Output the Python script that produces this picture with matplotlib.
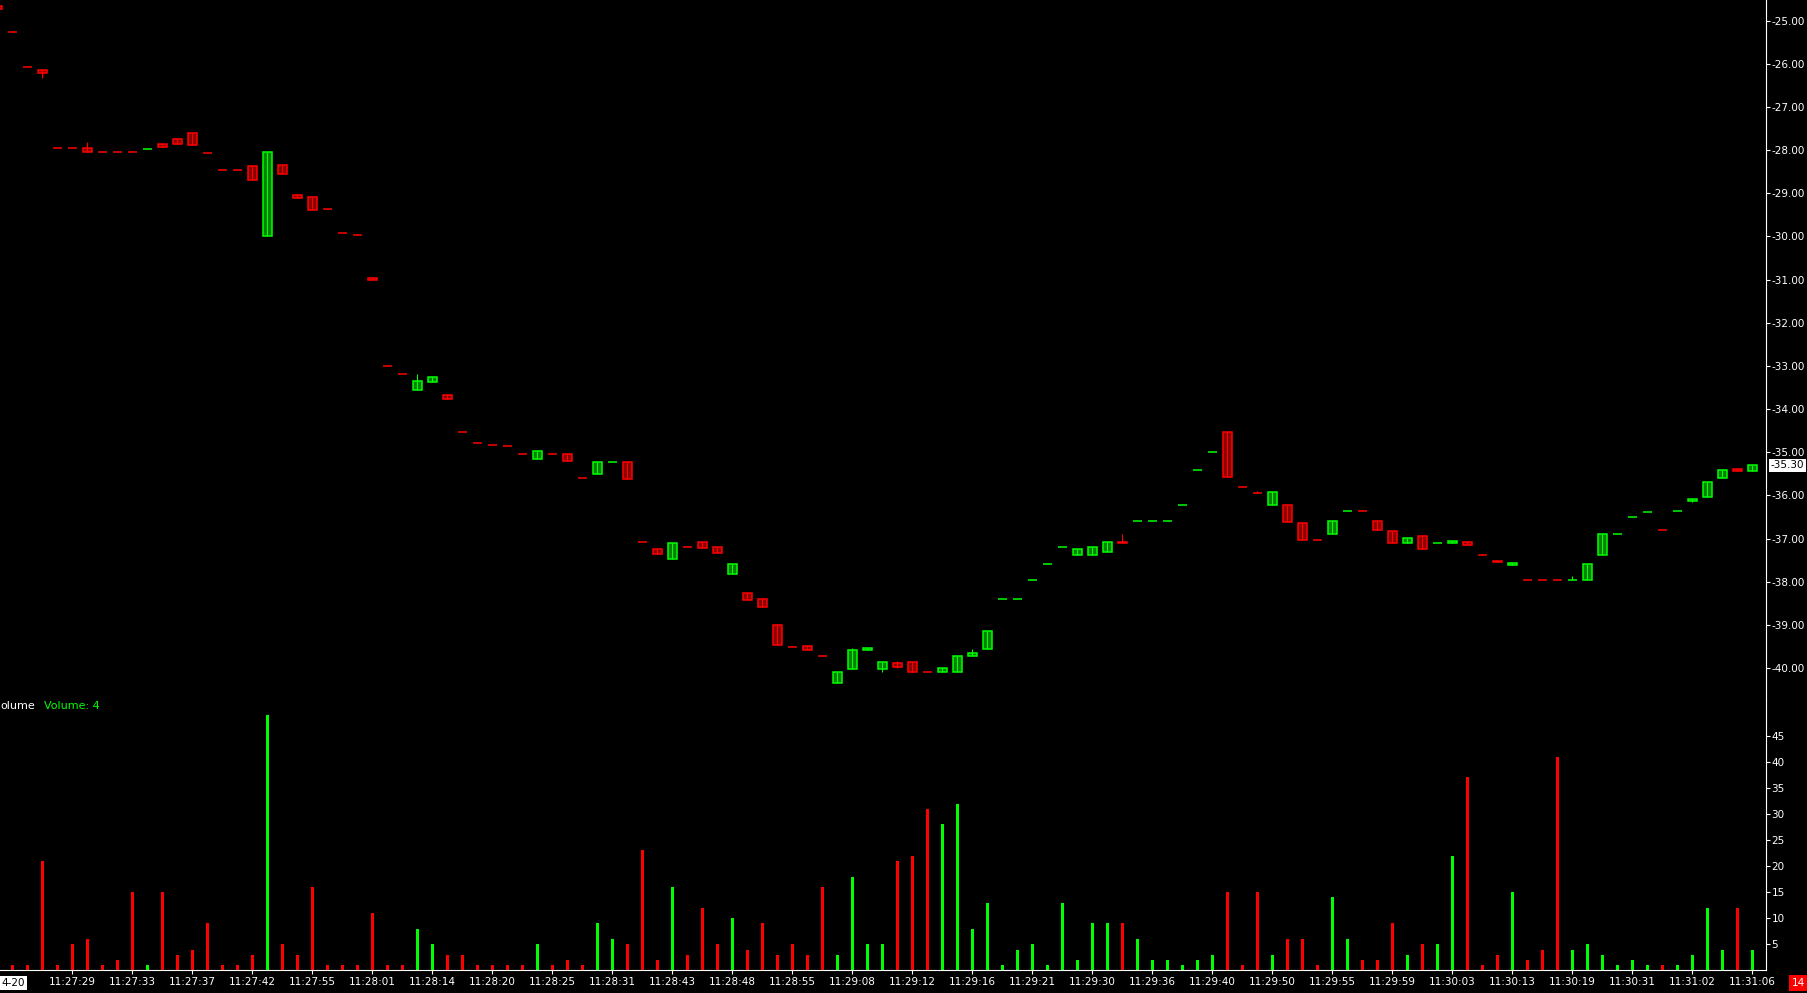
import numpy as np
import matplotlib
matplotlib.use("Agg")
import matplotlib.pyplot as plt
from matplotlib.ticker import FormatStrFormatter

plt.rcParams['axes.unicode_minus'] = False
plt.rcParams['font.family'] = ['DejaVu Sans']

# bar index -1 is only partly visible at the left edge
bar_idx = np.arange(-1, 117)

opens = [-24.66, -25.25, -26.08, -26.15, -27.96, -27.96, -27.96, -28.05, -28.05, -28.05,
         -27.98, -27.86, -27.73, -27.61, -28.07, -28.47, -28.47, -28.37, -29.98, -28.35,
         -29.05, -29.09, -29.37, -29.93, -29.97, -30.96, -32.99, -33.19, -33.55, -33.37,
         -33.68, -34.52, -34.79, -34.82, -34.86, -35.05, -35.15, -35.05, -35.04, -35.60,
         -35.50, -35.23, -35.23, -37.07, -37.25, -37.47, -37.20, -37.07, -37.20, -37.82,
         -38.27, -38.41, -39.01, -39.52, -39.50, -39.71, -40.34, -40.02, -39.58, -40.02,
         -39.89, -39.85, -40.10, -40.10, -40.10, -39.71, -39.55, -38.41, -38.41, -37.95,
         -37.60, -37.20, -37.39, -37.37, -37.32, -37.07, -36.60, -36.60, -36.60, -36.21,
         -35.42, -35.00, -34.54, -35.81, -35.95, -36.21, -36.21, -36.65, -37.04, -36.90,
         -36.35, -36.37, -36.60, -36.83, -37.11, -36.93, -37.11, -37.10, -37.09, -37.39,
         -37.51, -37.61, -37.95, -37.95, -37.95, -37.95, -37.95, -37.38, -36.90, -36.51,
         -36.39, -36.81, -36.37, -36.12, -36.03, -35.59, -35.39, -35.43]

closes = [-24.73, -25.25, -26.08, -26.20, -27.96, -27.96, -28.05, -28.05, -28.05, -28.05,
          -27.98, -27.93, -27.86, -27.87, -28.07, -28.47, -28.47, -28.68, -28.05, -28.55,
          -29.10, -29.38, -29.37, -29.93, -29.97, -31.00, -32.99, -33.19, -33.35, -33.26,
          -33.76, -34.52, -34.79, -34.82, -34.86, -35.05, -34.98, -35.05, -35.20, -35.60,
          -35.23, -35.23, -35.61, -37.07, -37.35, -37.11, -37.20, -37.21, -37.33, -37.60,
          -38.42, -38.58, -39.46, -39.52, -39.58, -39.71, -40.10, -39.57, -39.54, -39.85,
          -39.97, -40.10, -40.10, -40.01, -39.71, -39.66, -39.15, -38.41, -38.41, -37.95,
          -37.60, -37.20, -37.25, -37.20, -37.07, -37.11, -36.60, -36.60, -36.60, -36.21,
          -35.42, -35.00, -35.58, -35.81, -35.95, -35.93, -36.61, -37.04, -37.04, -36.60,
          -36.35, -36.37, -36.81, -37.11, -36.99, -37.23, -37.11, -37.06, -37.16, -37.39,
          -37.55, -37.57, -37.95, -37.95, -37.95, -37.95, -37.60, -36.90, -36.90, -36.51,
          -36.39, -36.81, -36.37, -36.08, -35.70, -35.40, -35.43, -35.30]

# wicks that stick out of the body (bar index -> price)
wick_high = {5: -27.81, 27: -33.19, 56: -39.54, 59: -39.84, 64: -39.55,
             74: -36.90, 83: -35.90, 97: -37.06, 104: -37.87}
wick_low = {2: -26.32, 58: -40.09, 59: -39.99, 112: -36.15}

# g = up bar, r = down bar
direction = ("rrrrrrrrrr" + "g" + "rrrrrrr" + "g" + "rrrrrrrrr" + "gg" + "rrrrrr" + "g"
             + "rrr" + "gg" + "rrr" + "g" + "rrr" + "g" + "rrrrrr" + "gggg" + "rrr"
             + "gggggggggggg" + "r" + "gggggg" + "rrr" + "g" + "rrr" + "gg" + "rrr" + "g"
             + "r" + "gg" + "rrr" + "g" + "rrr" + "gggggg" + "r" + "gggg" + "r" + "g")

volumes = [1,
           1, 1, 21, 1, 5, 6, 1, 2, 15, 1, 15, 3, 4, 9, 1, 1, 3, 49, 5, 3,
           16, 1, 1, 1, 11, 1, 1, 8, 5, 3, 3, 1, 1, 1, 1, 5, 1, 2, 1, 9,
           6, 5, 23, 2, 16, 3, 12, 5, 10, 4, 9, 3, 5, 3, 16, 3, 18, 5, 5, 21,
           22, 31, 28, 32, 8, 13, 1, 4, 5, 1, 13, 2, 9, 9, 9, 6, 2, 2, 1, 2,
           3, 15, 1, 15, 3, 6, 6, 1, 14, 6, 2, 2, 9, 3, 5, 5, 22, 37, 1, 3,
           15, 2, 4, 41, 4, 5, 3, 1, 2, 1, 1, 1, 3, 12, 4, 12, 4]

tick_bars = list(range(4, 117, 4))
tick_labels = ['11:27:29', '11:27:33', '11:27:37', '11:27:42', '11:27:55', '11:28:01',
               '11:28:14', '11:28:20', '11:28:25', '11:28:31', '11:28:43', '11:28:48',
               '11:28:55', '11:29:08', '11:29:12', '11:29:16', '11:29:21', '11:29:30',
               '11:29:36', '11:29:40', '11:29:50', '11:29:55', '11:29:59', '11:30:03',
               '11:30:13', '11:30:19', '11:30:31', '11:31:02', '11:31:06']

o = np.array(opens)
c = np.array(closes)
hi = np.maximum(o, c)
lo = np.minimum(o, c)
for k, v in wick_high.items():
    hi[k + 1] = v
for k, v in wick_low.items():
    lo[k + 1] = v

up = np.array([d == 'g' for d in direction])
edge = np.where(up, '#00ff00', '#ff0000')
fill = np.where(up, '#008000', '#880000')

W, H = 1807, 993
fig = plt.figure(figsize=(W / 100, H / 100), dpi=100, facecolor='black')
right = 1766 / W
ax = fig.add_axes([0, 1 - 700 / H, right, 700 / H])
axv = fig.add_axes([0, 1 - 970.4 / H, right, (970.4 - 700) / H], sharex=ax)

for a in (ax, axv):
    a.set_facecolor('black')
    for s in ('top', 'left'):
        a.spines[s].set_visible(False)
    a.spines['right'].set_color('white')
    a.yaxis.tick_right()
    a.tick_params(axis='y', colors='white', labelsize=7.5, length=3, width=0.8,
                  direction='out', pad=1)

ax.spines['bottom'].set_visible(False)
axv.spines['bottom'].set_color('white')

# candles
ax.vlines(bar_idx, lo, hi, colors=edge, linewidth=0.8)
ax.bar(bar_idx, c - o, bottom=o, width=0.6, color=fill, edgecolor=edge, linewidth=1.1)
ax.set_xlim(-0.8333, 116.9)
ax.set_ylim(-40.74, -24.52)
ax.set_yticks(np.arange(-40, -24, 1))
ax.yaxis.set_major_formatter(FormatStrFormatter('%.2f'))
ax.tick_params(axis='x', bottom=False, labelbottom=False)

# last price marker
ax.annotate('%.2f' % closes[-1], xy=(1, closes[-1]), xycoords=('axes fraction', 'data'),
            xytext=(3.2, 0), textcoords='offset points', va='center', ha='left',
            fontsize=7.5, color='black', annotation_clip=False,
            bbox=dict(boxstyle='square,pad=0.15', facecolor='white', edgecolor='none'))

# volume
axv.bar(bar_idx, volumes, width=0.14, color=edge)
axv.set_ylim(0, 51.86)
axv.set_yticks(range(5, 50, 5))
axv.set_xticks(tick_bars)
axv.set_xticklabels(tick_labels)
axv.tick_params(axis='x', colors='white', labelsize=7.5, length=3, width=0.8,
                direction='out', pad=2)

axv.text(0.0, 1 - 705 / (970.4 - 700) + 0.0, '', transform=axv.transAxes)
fig.text(0.0, 1 - 706 / H, 'olume', color='white', fontsize=8, va='center', ha='left')
fig.text(44 / W, 1 - 706 / H, 'Volume: %d' % volumes[-1], color='#00ff00', fontsize=8,
         va='center', ha='left')

fig.text(1 / W, 1 - 983 / H, '4-20', color='black', fontsize=7.5, va='center', ha='left',
         bbox=dict(boxstyle='square,pad=0.2', facecolor='white', edgecolor='none'))
fig.text(1792 / W, 1 - 983 / H, '14', color='white', fontsize=7.5, va='center', ha='left',
         bbox=dict(boxstyle='square,pad=0.3', facecolor='#ff0000', edgecolor='none'))

fig.savefig('out.png', dpi=100, facecolor='black')
